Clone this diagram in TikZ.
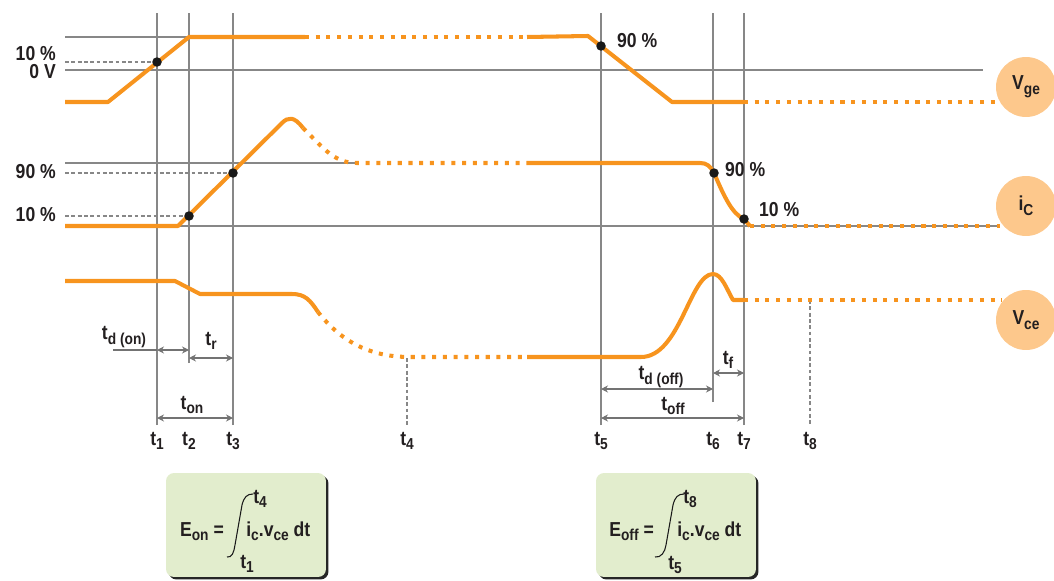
\documentclass[tikz,border=0pt]{standalone}
\usepackage{fontspec}
\setmainfont{Liberation Sans}[FakeStretch=0.87]
\usetikzlibrary{arrows.meta, shadows}
\definecolor{wforange}{RGB}{247,148,30}
\definecolor{wfcircle}{RGB}{253,200,140}
\definecolor{wfgreen}{RGB}{226,237,205}
\definecolor{wfgrid}{RGB}{135,135,135}
\definecolor{wftext}{RGB}{35,31,32}
\newcommand{\lo}[1]{\raisebox{-0.45ex}{\fontsize{9}{10}\selectfont #1}}

\begin{document}
\begin{tikzpicture}[x=0.02cm, y=-0.02cm, font=\fontsize{11.5}{13}\selectfont\bfseries, text=wftext,
  wave/.style={wforange, line width=2.3pt, line join=round},
  wavedot/.style={wforange, line width=2.3pt, dash pattern=on 2.3pt off 3.8pt},
  grid/.style={wfgrid, line width=0.6pt},
  guide/.style={wfgrid, line width=0.6pt, dash pattern=on 2.2pt off 1.4pt},
  sample/.style={circle, fill=black!90, inner sep=0pt, minimum size=0.19cm},
  sig/.style={circle, fill=wfcircle, minimum size=1.2cm, inner sep=0pt},
  span/.style={{Stealth[length=4pt,width=4pt]}-{Stealth[length=4pt,width=4pt]}, wfgrid!85!black, line width=0.6pt},
  ebox/.style={rounded corners=0.16cm, fill=wfgreen, minimum width=3.2cm, minimum height=2.08cm,
    drop shadow={shadow xshift=0.05cm, shadow yshift=-0.05cm, fill=black!85, opacity=1}},
  integ/.style={black!90, line width=0.6pt}
]
\useasboundingbox (0,0) rectangle (1054,581);
% time instants
\foreach \n/\x in {1/157,2/189,3/233,4/407,5/601,6/713,7/744,8/810}
  \coordinate (t\n) at (\x,425);
\foreach \n in {1,...,8}
  \node (lbl\n) at ([yshift=-0.32cm]t\n) {t\lo{\n}};
% grid
\draw[grid] (t1) -- (157,13);
\draw[grid] (189,363) -- (189,13);
\draw[grid] (t3) -- (233,13);
\draw[grid] (t5) -- (601,13);
\draw[grid] (713,402) -- (713,13);
\draw[grid] (t7) -- (744,13);
\draw[grid] (65,37) -- (189,37);
\draw[grid] (65,70) -- (983,70);
\draw[grid] (65,163) -- (355,163);
\draw[grid] (65,226) -- (1000,226);
\draw[guide] (65,62) -- (157,62);
\draw[guide] (65,173) -- (233,173);
\draw[guide] (65,216) -- (189,216);
\draw[guide] (407,358) -- (t4);
\draw[guide] (810,300) -- (t8);
% Vge
\draw[wave] (65,102) -- (108,102) -- (189,37) -- (305,37);
\draw[wavedot] (305,37) -- (527,37);
\draw[wave] (527,37) -- (588,36) -- (672,102) -- (744,102);
\draw[wavedot] (744,102) -- (995,102);
% iC
\draw[wave] (65,226) -- (178,226) -- (282,123) .. controls (288,117) and (294,116) .. (303,128);
\draw[wavedot] (303,128) .. controls (325,150) and (335,163) .. (357,163) -- (527,163);
\draw[wave] (527,163) -- (700,163) .. controls (707,163) and (710,166) .. (714,173)
  .. controls (724,196) and (732,214) .. (744,219) -- (750,226);
\draw[wavedot] (750,226) -- (1000,226);
% Vce
\draw[wave] (65,281) -- (175,281) -- (200,294) -- (292,294) .. controls (305,294) and (310,300) .. (318,312);
\draw[wavedot] (318,312) .. controls (340,340) and (368,357) .. (410,357) -- (527,357);
\draw[wave] (527,357) -- (641,357) .. controls (680,357) and (690,274) .. (713,274)
  .. controls (722,274) and (727,290) .. (733,300) -- (744,300);
\draw[wavedot] (744,300) -- (1002,300);
% crossing points
\node[sample] (p1) at (157,62) {};
\node[sample] (p2) at (189,216) {};
\node[sample] (p3) at (233,173) {};
\node[sample] (p5) at (601,46) {};
\node[sample] (p6) at (714,173) {};
\node[sample] (p7) at (744,219) {};
% levels
\node[anchor=east] at (62,54) {10 \%};
\node[anchor=east] at (62,72) {0 V};
\node[anchor=east] at (62,172) {90 \%};
\node[anchor=east] at (62,215) {10 \%};
\node[anchor=west] at (611,41) {90 \%};
\node[anchor=west] at (719,170) {90 \%};
\node[anchor=west] at (753,210) {10 \%};
% signal tags
\node[sig] (vge) at (1026,87) {V\lo{ge}};
\node[sig] (ic) at (1026,206) {i\lo{C}};
\node[sig] (vce) at (1026,320) {V\lo{ce}};
% switching times
\coordinate (ydon) at (0,350);
\coordinate (ytr) at (0,358);
\coordinate (yton) at (0,418);
\coordinate (ydoff) at (0,389);
\coordinate (ytf) at (0,373);
\draw[grid, wfgrid!85!black] (113,350) -- (t1 |- ydon);
\draw[span] (t1 |- ydon) -- (t2 |- ydon);
\draw[span] (t2 |- ytr) -- (t3 |- ytr);
\draw[span] (t1 |- yton) -- (t3 |- yton);
\draw[span] (t5 |- ydoff) -- (t6 |- ydoff);
\draw[span] (t6 |- ytf) -- (t7 |- ytf);
\draw[span] (t5 |- yton) -- (t7 |- yton);
\node at (124,337) {t\lo{d (on)}};
\node at (211,341) {t\lo{r}};
\node at (192,405) {t\lo{on}};
\node at (661,377) {t\lo{d (off)}};
\node at (728,360) {t\lo{f}};
\node at (673,406) {t\lo{off}};
% energies
\node[ebox] (eon) at (246,525) {};
\node[ebox] (eoff) at (676,525) {};
\node[anchor=base east] at (230,536) {E\lo{on} =};
\draw[integ] (227,557) .. controls (232,558) and (234,552) .. (235,545) -- (242,505) .. controls (244,497) and (247,494) .. (253,494);
\node[anchor=base west, inner sep=0pt] at (253,503) {t\lo{4}};
\node[anchor=base west, inner sep=0pt] at (240,568) {t\lo{1}};
\node[anchor=base west, inner sep=0pt] at (246,536) {i\lo{c}.v\lo{ce} dt};
\node[anchor=base east] at (660,536) {E\lo{off} =};
\draw[integ] (655,557) .. controls (661,558) and (665,552) .. (666,545) -- (673,505) .. controls (675,497) and (678,494) .. (684,494);
\node[anchor=base west, inner sep=0pt] at (683,503) {t\lo{8}};
\node[anchor=base west, inner sep=0pt] at (668,569) {t\lo{5}};
\node[anchor=base west, inner sep=0pt] at (677,536) {i\lo{c}.v\lo{ce} dt};
\end{tikzpicture}
\end{document}
